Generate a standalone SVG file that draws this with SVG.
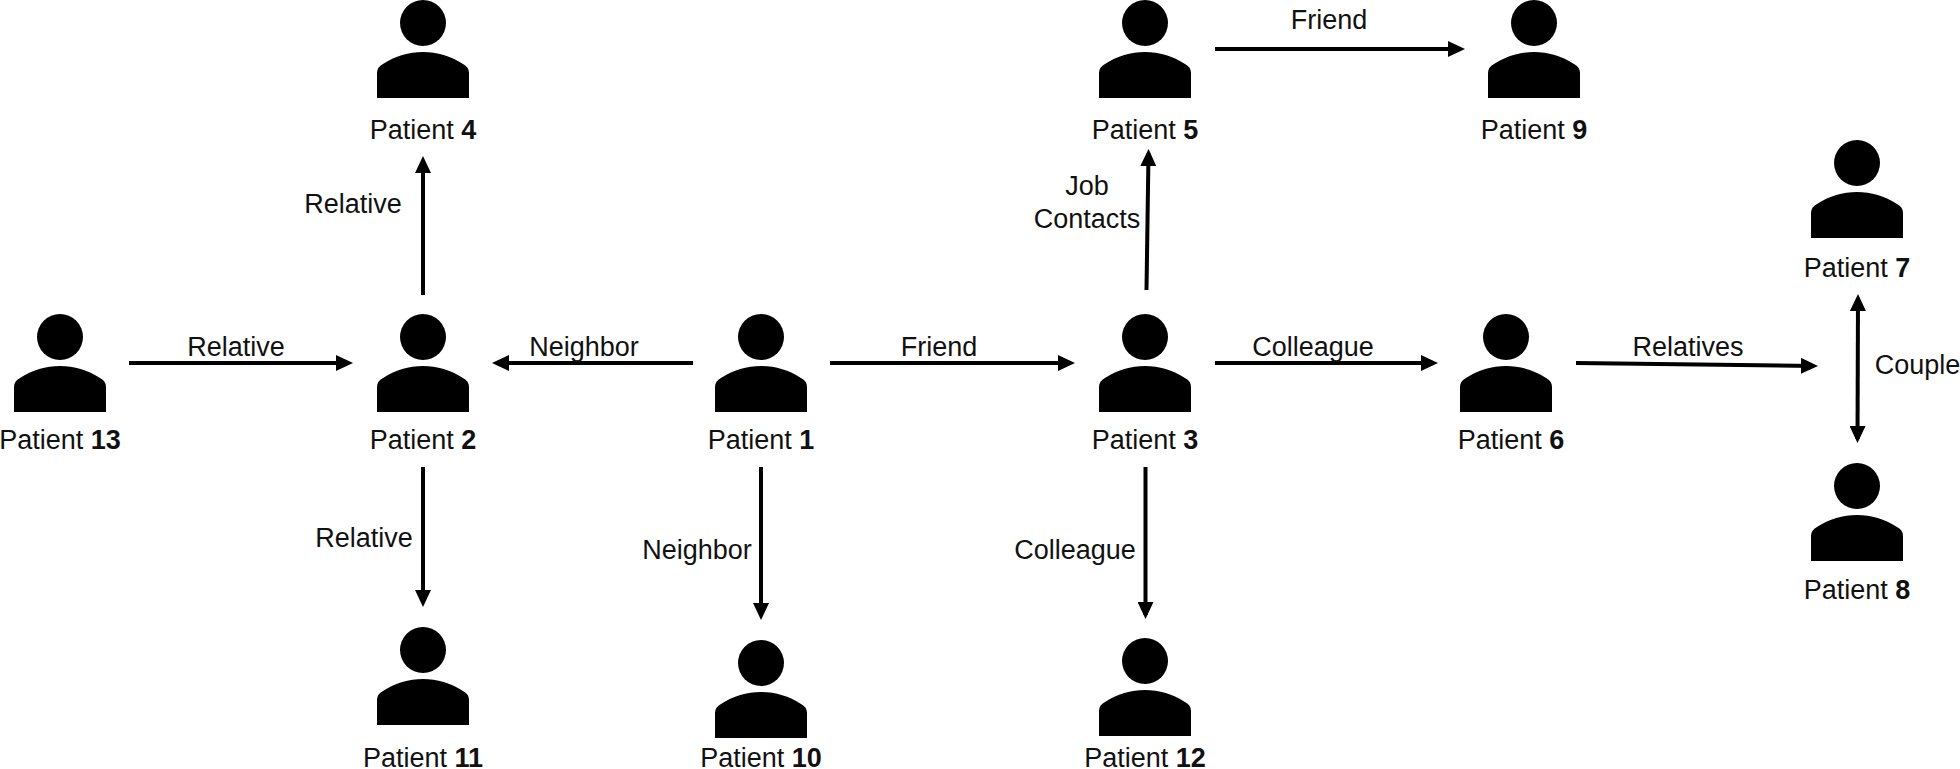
<svg xmlns="http://www.w3.org/2000/svg" width="1960" height="769" viewBox="0 0 1960 769">
<style>
text{font-family:"Liberation Sans",Arial,sans-serif;font-size:27px;fill:#111;text-anchor:middle}
.id{font-weight:bold}
.conn line{stroke:#000;stroke-width:4;fill:none}
</style>
<defs>
<marker id="tip" viewBox="0 0 17 16" refX="13" refY="8" markerWidth="17" markerHeight="16" markerUnits="userSpaceOnUse" orient="auto-start-reverse"><path d="M0 0L17 8L0 16Z" fill="#000"/></marker>
<g id="person"><circle cx="0" cy="0" r="23"/><path d="M-46 75V50C-46 46-44 43-40 41C-28 33-14 29 0 29C14 29 28 33 40 41C44 43 46 46 46 50V75Z"/></g>
</defs>
<rect width="1960" height="769" fill="#fff"/>
<g class="conn" id="connectors">
<line x1="129" y1="363" x2="349" y2="363" marker-end="url(#tip)"/>
<line x1="693" y1="363" x2="496" y2="363" marker-end="url(#tip)"/>
<line x1="830" y1="363" x2="1071" y2="363" marker-end="url(#tip)"/>
<line x1="1215" y1="363" x2="1434" y2="363" marker-end="url(#tip)"/>
<line x1="1576" y1="363" x2="1814" y2="366" marker-end="url(#tip)"/>
<line x1="1215" y1="49" x2="1461" y2="49" marker-end="url(#tip)"/>
<line x1="423" y1="295" x2="423" y2="160" marker-end="url(#tip)"/>
<line x1="423" y1="467" x2="423" y2="603" marker-end="url(#tip)"/>
<line x1="761" y1="467" x2="761" y2="616" marker-end="url(#tip)"/>
<line x1="1145.500" y1="467" x2="1145.500" y2="615" marker-end="url(#tip)"/>
<line x1="1146.500" y1="290" x2="1148.500" y2="153" marker-end="url(#tip)"/>
<line x1="1858" y1="298" x2="1857.500" y2="439" marker-start="url(#tip)" marker-end="url(#tip)"/>
</g>
<g id="edge-labels">
<text x="236" y="355.500">Relative</text>
<text x="584" y="355.500">Neighbor</text>
<text x="939" y="355.500">Friend</text>
<text x="1313" y="355.500">Colleague</text>
<text x="1688" y="355.500">Relatives</text>
<text x="1329" y="29">Friend</text>
<text x="353" y="213">Relative</text>
<text x="364" y="547">Relative</text>
<text x="697" y="559">Neighbor</text>
<text x="1075" y="559">Colleague</text>
<text x="1087" y="195">Job</text>
<text x="1087" y="228">Contacts</text>
<text x="1917.500" y="374">Couple</text>
</g>
<g id="patient-1"><use href="#person" x="761" y="337"/><text x="761" y="449">Patient <tspan class="id">1</tspan></text></g>
<g id="patient-2"><use href="#person" x="423" y="337"/><text x="423" y="449">Patient <tspan class="id">2</tspan></text></g>
<g id="patient-3"><use href="#person" x="1145" y="337"/><text x="1145" y="449">Patient <tspan class="id">3</tspan></text></g>
<g id="patient-4"><use href="#person" x="423" y="23"/><text x="423" y="139">Patient <tspan class="id">4</tspan></text></g>
<g id="patient-5"><use href="#person" x="1145" y="23"/><text x="1145" y="139">Patient <tspan class="id">5</tspan></text></g>
<g id="patient-6"><use href="#person" x="1506" y="337"/><text x="1511" y="449">Patient <tspan class="id">6</tspan></text></g>
<g id="patient-7"><use href="#person" x="1857" y="163"/><text x="1857" y="277">Patient <tspan class="id">7</tspan></text></g>
<g id="patient-8"><use href="#person" x="1857" y="486"/><text x="1857" y="599">Patient <tspan class="id">8</tspan></text></g>
<g id="patient-9"><use href="#person" x="1534" y="23"/><text x="1534" y="139">Patient <tspan class="id">9</tspan></text></g>
<g id="patient-10"><use href="#person" x="761" y="663"/><text x="761" y="767">Patient <tspan class="id">10</tspan></text></g>
<g id="patient-11"><use href="#person" x="423" y="650"/><text x="423" y="767">Patient <tspan class="id">11</tspan></text></g>
<g id="patient-12"><use href="#person" x="1145" y="661"/><text x="1145" y="767">Patient <tspan class="id">12</tspan></text></g>
<g id="patient-13"><use href="#person" x="60" y="337"/><text x="60" y="449">Patient <tspan class="id">13</tspan></text></g>
</svg>
